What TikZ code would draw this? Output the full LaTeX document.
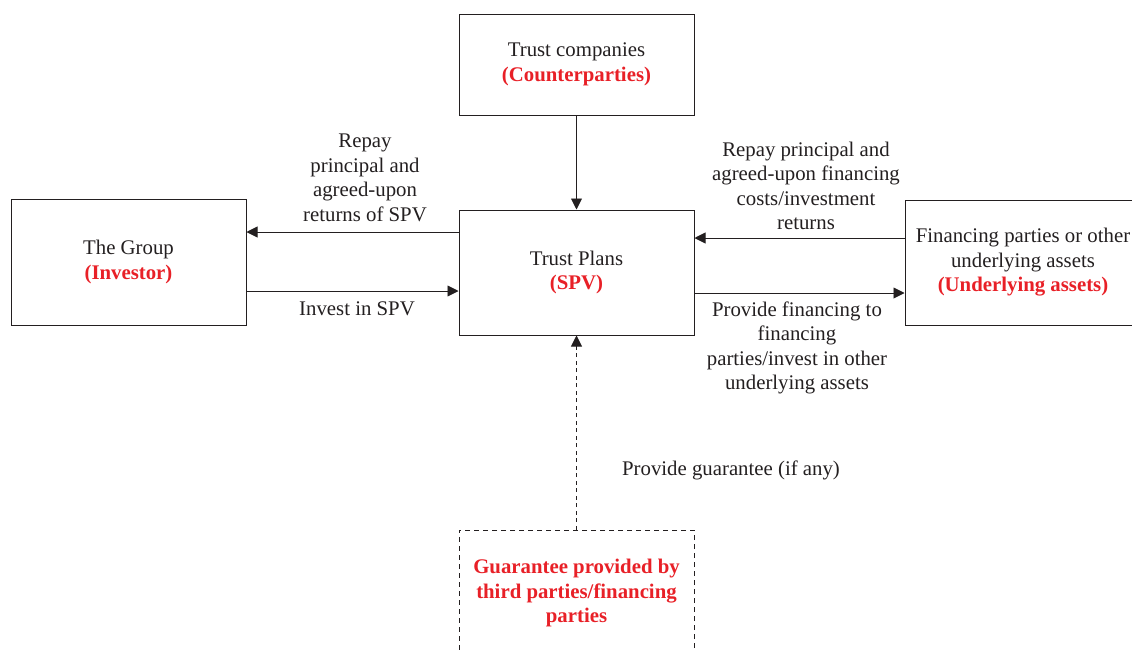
\documentclass[tikz,border=0pt]{standalone}
\usepackage{fontspec}
\setmainfont{Liberation Serif}
\usetikzlibrary{arrows.meta}
\definecolor{hl}{RGB}{232,32,39}
\definecolor{ink}{RGB}{35,31,32}
\newcommand{\hlt}[1]{{\color{hl}\bfseries #1}}
\begin{document}
\begin{tikzpicture}[x=1pt,y=-1pt,
  every node/.style={font=\fontsize{20.8}{24.5}\selectfont, text=ink, align=center},
  entity/.style={draw=ink, line width=1pt, minimum width=235pt, inner sep=0pt},
  guarbox/.style={entity, dash pattern=on 5pt off 4pt},
  flow/.style={draw=ink, line width=0.9pt, -{Triangle[length=11pt,width=11pt]}},
  guarflow/.style={flow, dash pattern=on 4pt off 3.5pt},
  lbl/.style={inner sep=0pt}]
\clip (0,0) rectangle (1132,651);
\useasboundingbox (0,0) rectangle (1132,651);

% parties
\node[entity, minimum height=101pt] (trustco) at (576.5,64.5) {Trust companies\\\hlt{(Counterparties)}};
\node[entity, minimum height=126pt] (group) at (128.5,262) {The Group\\\hlt{(Investor)}};
\node[entity, minimum height=125pt] (spv) at (576.5,272.5) {Trust Plans\\\hlt{(SPV)}};
\node[entity, minimum height=125pt, minimum width=236pt] (assets) at (1023,262.5) {Financing parties or other\\underlying assets\\\hlt{(Underlying assets)}};
\node[guarbox, minimum height=126pt] (guar) at (576.5,593) {\hlt{Guarantee provided by}\\\hlt{third parties/financing}\\\hlt{parties}};

% flows
\draw[flow] (trustco.south) -- (spv.north);
\draw[flow] ([yshift=40.5pt]spv.west) -- ([yshift=40.5pt]spv.west -| group.east);
\draw[flow] ([yshift=-29pt]group.east) -- ([yshift=-29pt]group.east -| spv.west);
\draw[flow] ([yshift=24.5pt]assets.west) -- ([yshift=24.5pt]assets.west -| spv.east);
\draw[flow] ([yshift=-20.5pt]spv.east) -- ([yshift=-20.5pt]spv.east -| assets.west);
\draw[guarflow] (guar.north) -- (spv.south);

% flow labels
\node[lbl] (repay) at (365,178) {Repay\\principal and\\agreed-upon\\returns of SPV};
\node[lbl] (invest) at (357,309) {Invest in SPV};
\node[lbl] (repayfin) at (806,186) {Repay principal and\\agreed-upon financing\\costs/investment\\returns};
\node[lbl] (provide) at (797,348) {Provide financing to\\financing\\parties/invest in other\\underlying assets};
\node[lbl] (guarlbl) at (731,470) {Provide guarantee (if any)};
\end{tikzpicture}
\end{document}
